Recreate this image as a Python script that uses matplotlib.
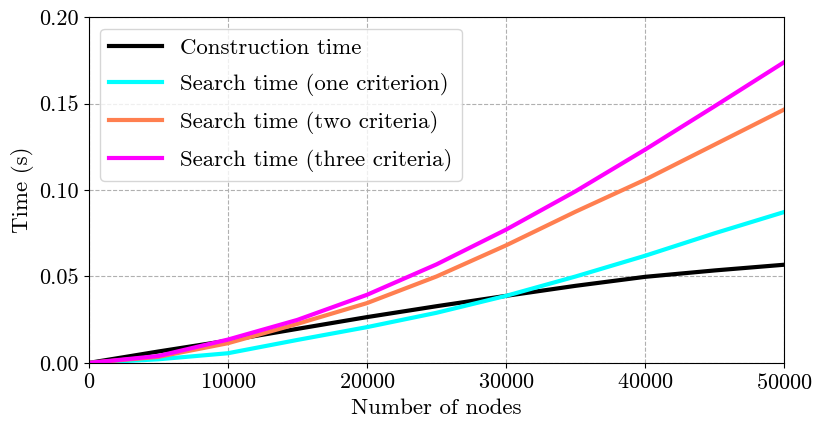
import matplotlib
matplotlib.use("Agg")
import matplotlib.pyplot as plt

plt.rcParams['font.family'] = 'serif'
plt.rcParams['font.serif'] = ['cmr10', 'DejaVu Serif']
plt.rcParams['mathtext.fontset'] = 'cm'
plt.rcParams['axes.formatter.use_mathtext'] = True

nodes = [0, 5000, 10000, 15000, 20000, 25000, 30000, 35000, 40000, 45000, 50000]
construction = [0.0, 0.0066, 0.0129, 0.0197, 0.0265, 0.0328, 0.0388, 0.0446, 0.0498, 0.0535, 0.0568]
search_one = [0.0, 0.0021, 0.0056, 0.0133, 0.0207, 0.0290, 0.0388, 0.0500, 0.0620, 0.0750, 0.0873]
search_two = [0.0, 0.0035, 0.0114, 0.0226, 0.0346, 0.0500, 0.0680, 0.0875, 0.1060, 0.1263, 0.1466]
search_three = [0.0, 0.0040, 0.0135, 0.0249, 0.0394, 0.0570, 0.0771, 0.0993, 0.1234, 0.1485, 0.1740]

labels = ["Construction time", "Search time (one criterion)",
          "Search time (two criteria)", "Search time (three criteria)"]
colors = ["black", "cyan", "coral", "magenta"]

fig = plt.figure(figsize=(8.22, 4.30), dpi=100)
ax = fig.add_axes([0.108, 0.156, 0.846, 0.804])

for ys, lab, c in zip([construction, search_one, search_two, search_three], labels, colors):
    ax.plot(nodes, ys, color=c, lw=3, label=lab)

ax.set_xlim(0, 50000)
ax.set_ylim(0, 0.20)
ax.set_xticks([0, 10000, 20000, 30000, 40000, 50000])
ax.set_yticks([0.00, 0.05, 0.10, 0.15, 0.20])
ax.set_yticklabels(["0.00", "0.05", "0.10", "0.15", "0.20"])
ax.tick_params(labelsize=16)
ax.set_xlabel("Number of nodes", fontsize=16.5)
ax.set_ylabel("Time (s)", fontsize=16.5)
ax.grid(True, linestyle='--', color='#b0b0b0', linewidth=0.8)
ax.legend(loc='upper left', fontsize=16.5, handlelength=2.3, labelspacing=0.65)

fig.savefig("out.png", dpi=100)
